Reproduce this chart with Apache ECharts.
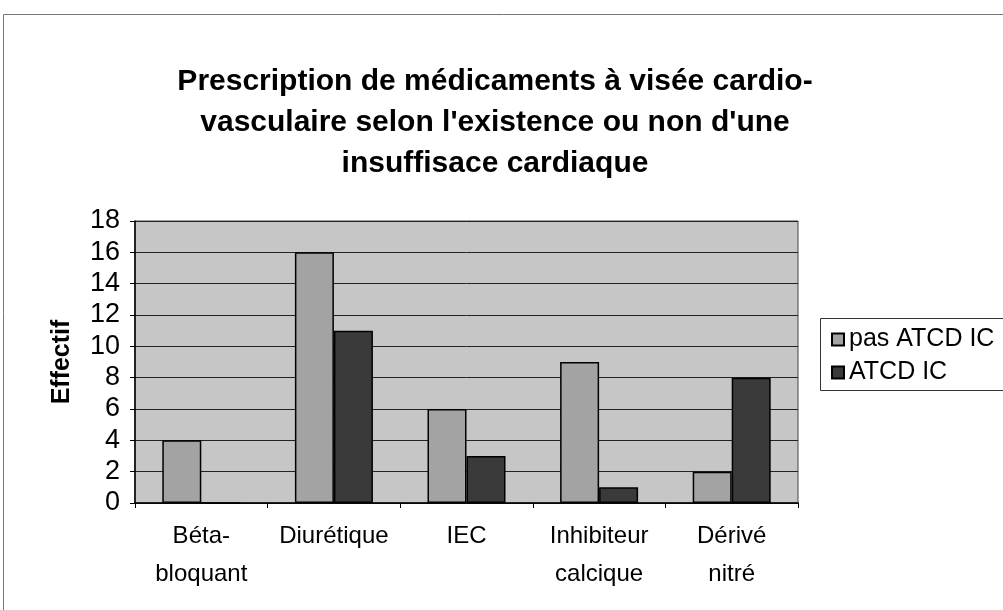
<!DOCTYPE html>
<html>
<head>
<meta charset="utf-8">
<script src="https://cdn.jsdelivr.net/npm/echarts@6/dist/echarts.min.js"></script>
<style>
  html, body { margin: 0; padding: 0; background: #fff; }
  #chart { width: 1003px; height: 610px; }
</style>
</head>
<body>
<div id="chart"></div>
<script>
// données
const categories = ['Béta-\nbloquant', 'Diurétique', 'IEC', 'Inhibiteur\ncalcique', 'Dérivé\nnitré'];
const pasAtcdIC = [4, 16, 6, 9, 2];
const atcdIC = [0, 11, 3, 1, 8];
const yTicks = [0, 2, 4, 6, 8, 10, 12, 14, 16, 18];

const chart = echarts.init(document.getElementById('chart'));

const font = 'Liberation Sans, Arial, sans-serif';

chart.setOption({
  animation: false,
  title: {
    text: "Prescription de médicaments à visée cardio-\nvasculaire selon l'existence ou non d'une\ninsuffisace cardiaque",
    left: 490,
    top: 56,
    textAlign: 'center',
    textStyle: {
      fontFamily: font,
      fontWeight: 'bold',
      fontSize: 30,
      lineHeight: 41,
      color: '#000'
    }
  },
  graphic: [
    // cadre du graphique
    {
      type: 'rect',
      shape: { x: 3.5, y: 14.5, width: 1020, height: 620 },
      style: { fill: 'none', stroke: '#777', lineWidth: 1 },
      silent: true
    },
    // cadre de la légende
    {
      type: 'rect',
      shape: { x: 820.5, y: 318.5, width: 200, height: 72 },
      style: { fill: '#fff', stroke: '#333', lineWidth: 1 },
      silent: true,
      z: 0
    }
  ],
  legend: {
    orient: 'vertical',
    left: 826,
    top: 322,
    icon: 'rect',
    itemWidth: 12,
    itemHeight: 12,
    itemGap: 8,
    textStyle: { fontFamily: font, fontSize: 25, color: '#000' },
    data: ['pas ATCD IC', 'ATCD IC'],
    z: 5
  },
  grid: {
    left: 135,
    right: 205,
    top: 221,
    bottom: 107,
    show: true,
    backgroundColor: '#c6c6c6',
    borderColor: '#444',
    borderWidth: 1
  },
  xAxis: {
    type: 'category',
    data: categories,
    axisLine: { lineStyle: { color: '#000', width: 1.5 } },
    axisTick: { show: true, length: 5, lineStyle: { color: '#000' } },
    axisLabel: {
      interval: 0,
      fontFamily: font,
      fontSize: 24,
      lineHeight: 38,
      color: '#000',
      margin: 14
    }
  },
  yAxis: {
    type: 'value',
    min: 0,
    max: yTicks[yTicks.length - 1],
    interval: 2,
    name: 'Effectif',
    nameLocation: 'middle',
    nameGap: 60,
    nameRotate: 90,
    nameTextStyle: { fontFamily: font, fontWeight: 'bold', fontSize: 25, color: '#000' },
    axisLine: { show: true, lineStyle: { color: '#000', width: 1.5 } },
    axisTick: { show: true, length: 5, lineStyle: { color: '#000' } },
    axisLabel: {
      fontFamily: font,
      fontSize: 27,
      color: '#000',
      margin: 15,
      formatter: v => yTicks.includes(v) ? String(v) : ''
    },
    splitLine: { show: true, lineStyle: { color: '#222', width: 1 } }
  },
  series: [
    {
      name: 'pas ATCD IC',
      type: 'bar',
      data: pasAtcdIC,
      barWidth: 39,
      barGap: '0%',
      itemStyle: { color: '#a3a3a3', borderColor: '#000', borderWidth: 1.5 }
    },
    {
      name: 'ATCD IC',
      type: 'bar',
      data: atcdIC,
      barWidth: 39,
      itemStyle: { color: '#3a3a3a', borderColor: '#000', borderWidth: 1.5 }
    }
  ]
});
</script>
</body>
</html>
